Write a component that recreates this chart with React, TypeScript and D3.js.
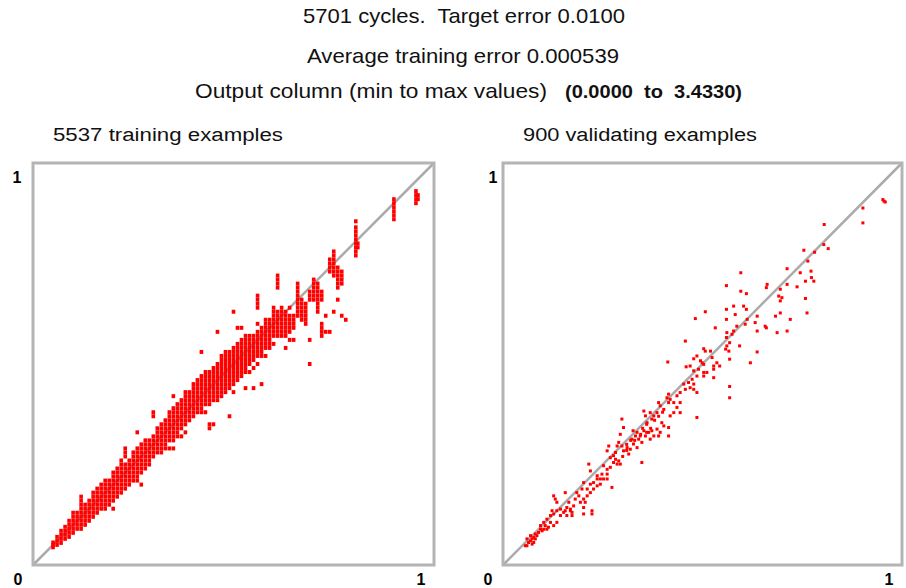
import React from "react";
import * as d3 from "d3";

// Header text
const headerLines = ["5701 cycles.  Target error 0.0100", "Average training error 0.000539"];
const outputRangeLabel = "Output column (min to max values)";
const outputRangeValues = "(0.0000  to  3.4330)";
const panelTitles = ["5537 training examples", "900 validating examples"];
const axisMinLabel = "0";
const axisMaxLabel = "1";

// Training set, grouped by actual (scaled) output: [actual, predicted values]
const trainingColumns: [number, number[]][] = [
  [0.05, [0.044, 0.05, 0.056]],
  [0.06, [0.05, 0.06, 0.07]],
  [0.07, [0.055, 0.065, 0.075, 0.085]],
  [0.08, [0.065, 0.075, 0.085, 0.095]],
  [0.09, [0.07, 0.08, 0.09, 0.1, 0.11]],
  [0.1, [0.08, 0.09, 0.1, 0.11, 0.12, 0.13]],
  [0.11, [0.09, 0.1, 0.11, 0.12, 0.13]],
  [0.12, [0.09, 0.1, 0.11, 0.12, 0.13, 0.14, 0.15, 0.16, 0.17]],
  [0.13, [0.1, 0.11, 0.12, 0.13, 0.14, 0.15]],
  [0.14, [0.11, 0.12, 0.13, 0.14, 0.15, 0.16]],
  [0.15, [0.12, 0.13, 0.14, 0.15, 0.16, 0.17, 0.18]],
  [0.16, [0.13, 0.14, 0.15, 0.16, 0.17, 0.18, 0.19]],
  [0.17, [0.14, 0.15, 0.16, 0.17, 0.18, 0.19, 0.2]],
  [0.18, [0.14, 0.15, 0.16, 0.17, 0.18, 0.19, 0.2, 0.21]],
  [0.19, [0.15, 0.16, 0.17, 0.18, 0.19, 0.2, 0.21]],
  [0.2, [0.14, 0.16, 0.17, 0.18, 0.19, 0.2, 0.21, 0.22, 0.23]],
  [0.21, [0.17, 0.18, 0.19, 0.2, 0.21, 0.22, 0.23, 0.24]],
  [0.22, [0.18, 0.19, 0.2, 0.21, 0.22, 0.23, 0.24, 0.25, 0.26]],
  [0.23, [0.19, 0.2, 0.21, 0.22, 0.23, 0.24, 0.25, 0.27, 0.28, 0.29]],
  [0.24, [0.2, 0.21, 0.22, 0.23, 0.24, 0.25, 0.26]],
  [0.25, [0.21, 0.22, 0.23, 0.24, 0.25, 0.26, 0.27, 0.28]],
  [0.26, [0.21, 0.22, 0.23, 0.24, 0.25, 0.26, 0.27, 0.28, 0.29, 0.33]],
  [0.27, [0.2, 0.23, 0.24, 0.25, 0.26, 0.27, 0.28, 0.29, 0.3]],
  [0.28, [0.24, 0.25, 0.26, 0.27, 0.28, 0.29, 0.3, 0.31]],
  [0.29, [0.25, 0.26, 0.27, 0.28, 0.29, 0.3, 0.31]],
  [0.3, [0.27, 0.28, 0.29, 0.3, 0.31, 0.32, 0.37, 0.38]],
  [0.31, [0.28, 0.29, 0.3, 0.31, 0.32, 0.33, 0.34]],
  [0.32, [0.28, 0.29, 0.3, 0.31, 0.32, 0.33, 0.34, 0.35]],
  [0.33, [0.29, 0.3, 0.31, 0.32, 0.33, 0.34, 0.35, 0.36]],
  [0.34, [0.29, 0.31, 0.32, 0.33, 0.34, 0.35, 0.36, 0.37, 0.38]],
  [0.35, [0.29, 0.31, 0.32, 0.33, 0.34, 0.35, 0.36, 0.37, 0.38, 0.39, 0.42]],
  [0.36, [0.32, 0.33, 0.34, 0.35, 0.36, 0.37, 0.38, 0.39, 0.4]],
  [0.37, [0.32, 0.34, 0.35, 0.36, 0.37, 0.38, 0.39, 0.4, 0.41]],
  [0.38, [0.33, 0.35, 0.36, 0.37, 0.38, 0.39, 0.4, 0.41, 0.42, 0.43]],
  [0.39, [0.36, 0.37, 0.38, 0.39, 0.4, 0.41, 0.42, 0.43]],
  [0.4, [0.37, 0.38, 0.39, 0.4, 0.41, 0.42, 0.43, 0.44, 0.45]],
  [0.41, [0.38, 0.39, 0.4, 0.41, 0.42, 0.43, 0.44, 0.45, 0.46]],
  [0.42, [0.38, 0.39, 0.4, 0.41, 0.42, 0.43, 0.44, 0.45, 0.46, 0.47, 0.53]],
  [0.43, [0.38, 0.4, 0.41, 0.42, 0.43, 0.44, 0.45, 0.46, 0.47, 0.48]],
  [0.44, [0.34, 0.35, 0.4, 0.41, 0.42, 0.43, 0.44, 0.45, 0.46, 0.47, 0.48]],
  [0.45, [0.35, 0.41, 0.42, 0.43, 0.44, 0.45, 0.46, 0.47, 0.48, 0.49]],
  [0.46, [0.41, 0.42, 0.43, 0.44, 0.45, 0.46, 0.47, 0.48, 0.49, 0.5, 0.58]],
  [0.47, [0.42, 0.43, 0.44, 0.45, 0.46, 0.47, 0.48, 0.49, 0.5, 0.51, 0.52]],
  [0.48, [0.43, 0.44, 0.45, 0.46, 0.47, 0.48, 0.49, 0.5, 0.51, 0.52, 0.53]],
  [0.49, [0.37, 0.44, 0.45, 0.46, 0.47, 0.48, 0.49, 0.5, 0.51, 0.52, 0.53]],
  [0.5, [0.43, 0.45, 0.46, 0.47, 0.48, 0.49, 0.5, 0.51, 0.52, 0.53, 0.54, 0.63]],
  [0.51, [0.46, 0.47, 0.48, 0.49, 0.5, 0.51, 0.52, 0.53, 0.54, 0.55, 0.59]],
  [0.52, [0.47, 0.48, 0.49, 0.5, 0.51, 0.52, 0.53, 0.54, 0.55, 0.56, 0.59]],
  [0.53, [0.44, 0.48, 0.49, 0.5, 0.51, 0.52, 0.53, 0.54, 0.55, 0.56, 0.57]],
  [0.54, [0.48, 0.5, 0.51, 0.52, 0.53, 0.54, 0.55, 0.56, 0.57]],
  [0.55, [0.44, 0.49, 0.51, 0.52, 0.53, 0.54, 0.55, 0.56, 0.57]],
  [0.56, [0.5, 0.52, 0.53, 0.54, 0.55, 0.56, 0.57, 0.58, 0.6, 0.64, 0.65, 0.66, 0.67]],
  [0.57, [0.45, 0.52, 0.53, 0.54, 0.55, 0.56, 0.57, 0.58, 0.59]],
  [0.58, [0.52, 0.54, 0.55, 0.56, 0.57, 0.58, 0.59, 0.6, 0.61]],
  [0.59, [0.54, 0.55, 0.56, 0.57, 0.58, 0.59, 0.6, 0.61]],
  [0.6, [0.55, 0.57, 0.58, 0.59, 0.6, 0.61, 0.62, 0.63, 0.64]],
  [0.61, [0.57, 0.58, 0.59, 0.6, 0.61, 0.62, 0.63, 0.69, 0.7, 0.71, 0.72]],
  [0.62, [0.57, 0.58, 0.59, 0.6, 0.61, 0.62, 0.63, 0.64]],
  [0.63, [0.54, 0.57, 0.58, 0.59, 0.6, 0.61, 0.62, 0.63]],
  [0.64, [0.56, 0.58, 0.59, 0.6, 0.61, 0.62, 0.64]],
  [0.65, [0.56, 0.59, 0.6, 0.61, 0.62]],
  [0.66, [0.62, 0.63, 0.64, 0.65, 0.66, 0.67, 0.68, 0.69, 0.7]],
  [0.67, [0.61, 0.62, 0.63, 0.64, 0.65, 0.66]],
  [0.68, [0.6, 0.61, 0.62, 0.63, 0.64, 0.65]],
  [0.69, [0.5, 0.56, 0.66, 0.67, 0.68]],
  [0.7, [0.66, 0.67, 0.68, 0.69, 0.7, 0.71]],
  [0.71, [0.63, 0.64, 0.65, 0.66, 0.67, 0.68, 0.69, 0.7]],
  [0.72, [0.57, 0.58, 0.59, 0.6, 0.66, 0.67, 0.68]],
  [0.73, [0.58, 0.62]],
  [0.74, [0.58, 0.73, 0.74, 0.75, 0.76]],
  [0.75, [0.63, 0.72, 0.73, 0.74, 0.75, 0.76, 0.77, 0.78]],
  [0.76, [0.66, 0.69, 0.7, 0.71, 0.72, 0.73, 0.74]],
  [0.77, [0.62, 0.7, 0.71, 0.72, 0.73]],
  [0.78, [0.61]],
  [0.805, [0.77, 0.78, 0.79, 0.8, 0.81, 0.82, 0.83, 0.84, 0.855]],
  [0.81, [0.79, 0.8]],
  [0.9, [0.86, 0.87, 0.88, 0.89, 0.9, 0.91]],
  [0.955, [0.9, 0.91, 0.92, 0.93]],
  [0.96, [0.91, 0.92]],
];

// Validating set: [actual, predicted]
const validatingPoints: [number, number][] = [
  [0.952, 0.909], [0.958, 0.903], [0.955, 0.905],
  [0.902, 0.888], [0.902, 0.851], [0.805, 0.847],
  [0.754, 0.783], [0.781, 0.778], [0.804, 0.797], [0.815, 0.787],
  [0.764, 0.756], [0.712, 0.737], [0.745, 0.727], [0.772, 0.731],
  [0.773, 0.715], [0.779, 0.706], [0.758, 0.706],
  [0.596, 0.727], [0.56, 0.695], [0.596, 0.681], [0.61, 0.675],
  [0.662, 0.698], [0.66, 0.69], [0.712, 0.698], [0.737, 0.692],
  [0.695, 0.686], [0.691, 0.669], [0.699, 0.665], [0.695, 0.657],
  [0.758, 0.663], [0.762, 0.627], [0.695, 0.627], [0.72, 0.611],
  [0.712, 0.582], [0.687, 0.578], [0.637, 0.619], [0.632, 0.603],
  [0.657, 0.594], [0.66, 0.59], [0.637, 0.582], [0.683, 0.619],
  [0.603, 0.644], [0.61, 0.636], [0.612, 0.611], [0.607, 0.599],
  [0.578, 0.644], [0.56, 0.636], [0.582, 0.623], [0.56, 0.611],
  [0.586, 0.594], [0.578, 0.582], [0.574, 0.574],
  [0.561, 0.578], [0.56, 0.566], [0.568, 0.553], [0.561, 0.545], [0.558, 0.537], [0.566, 0.532], [0.568, 0.512],
  [0.593, 0.545], [0.637, 0.53], [0.62, 0.503], [0.568, 0.444], [0.568, 0.416],
  [0.507, 0.63], [0.482, 0.613], [0.532, 0.59], [0.457, 0.557],
  [0.503, 0.538], [0.507, 0.532], [0.52, 0.532], [0.524, 0.516], [0.536, 0.503], [0.528, 0.495], [0.528, 0.487], [0.543, 0.495],
  [0.486, 0.52], [0.478, 0.513], [0.495, 0.508], [0.503, 0.499], [0.499, 0.503],
  [0.469, 0.495], [0.478, 0.483], [0.49, 0.487], [0.503, 0.479], [0.511, 0.479], [0.486, 0.47], [0.474, 0.462], [0.503, 0.47], [0.528, 0.466],
  [0.465, 0.454], [0.453, 0.45], [0.478, 0.437], [0.469, 0.441], [0.457, 0.437], [0.486, 0.429], [0.478, 0.45],
  [0.486, 0.367], [0.413, 0.505], [0.459, 0.493],
  [0.444, 0.429], [0.436, 0.421], [0.444, 0.404], [0.428, 0.404], [0.419, 0.412], [0.436, 0.392], [0.444, 0.379], [0.428, 0.379], [0.415, 0.404],
  [0.415, 0.425], [0.411, 0.416],
  [0.39, 0.404], [0.394, 0.396], [0.403, 0.387], [0.386, 0.379], [0.378, 0.371], [0.369, 0.379], [0.373, 0.363], [0.361, 0.354], [0.357, 0.371], [0.353, 0.383],
  [0.419, 0.371], [0.415, 0.342], [0.415, 0.321],
  [0.398, 0.354], [0.403, 0.346], [0.386, 0.338], [0.394, 0.33], [0.39, 0.321], [0.373, 0.334], [0.378, 0.321], [0.369, 0.313],
  [0.365, 0.33], [0.357, 0.321], [0.353, 0.334], [0.344, 0.321], [0.348, 0.305], [0.34, 0.313], [0.336, 0.33], [0.326, 0.334],
  [0.332, 0.321], [0.323, 0.313], [0.327, 0.301], [0.336, 0.292], [0.319, 0.288], [0.315, 0.276], [0.302, 0.284], [0.311, 0.292],
  [0.298, 0.296], [0.298, 0.363], [0.302, 0.342], [0.294, 0.325], [0.29, 0.305], [0.286, 0.296],
  [0.35, 0.34], [0.36, 0.35], [0.37, 0.34], [0.38, 0.36], [0.39, 0.37], [0.4, 0.38], [0.36, 0.33], [0.345, 0.325],
  [0.33, 0.31], [0.31, 0.3], [0.32, 0.31], [0.3, 0.27], [0.31, 0.285],
  [0.348, 0.255],
  [0.282, 0.28], [0.277, 0.272], [0.269, 0.267], [0.282, 0.263], [0.29, 0.259], [0.294, 0.251], [0.286, 0.251], [0.277, 0.255],
  [0.265, 0.296], [0.261, 0.284], [0.269, 0.243], [0.261, 0.238], [0.252, 0.247], [0.261, 0.226], [0.248, 0.226],
  [0.244, 0.214], [0.236, 0.222], [0.227, 0.205], [0.236, 0.197], [0.227, 0.189], [0.219, 0.18], [0.211, 0.172], [0.202, 0.164],
  [0.211, 0.189], [0.219, 0.201], [0.236, 0.214], [0.252, 0.214], [0.244, 0.201], [0.215, 0.251], [0.219, 0.234], [0.273, 0.193], [0.261, 0.214],
  [0.19, 0.172], [0.198, 0.189], [0.202, 0.205], [0.185, 0.18], [0.181, 0.164], [0.194, 0.156], [0.177, 0.147], [0.169, 0.139],
  [0.165, 0.156], [0.16, 0.143], [0.173, 0.131], [0.156, 0.18], [0.202, 0.143], [0.206, 0.156],
  [0.127, 0.172], [0.131, 0.164], [0.135, 0.156], [0.144, 0.139], [0.152, 0.131], [0.16, 0.123], [0.156, 0.135], [0.135, 0.135],
  [0.123, 0.135], [0.127, 0.127], [0.119, 0.123], [0.144, 0.123], [0.173, 0.123], [0.169, 0.135],
  [0.202, 0.127], [0.223, 0.135], [0.223, 0.127],
  [0.11, 0.114], [0.119, 0.106], [0.102, 0.106], [0.094, 0.098], [0.106, 0.098], [0.114, 0.094], [0.127, 0.098], [0.135, 0.106],
  [0.11, 0.089], [0.098, 0.085], [0.089, 0.081], [0.081, 0.077], [0.077, 0.069], [0.073, 0.065], [0.069, 0.06], [0.064, 0.056],
  [0.073, 0.052], [0.06, 0.048], [0.056, 0.048], [0.077, 0.056], [0.085, 0.073], [0.094, 0.089], [0.102, 0.089],
  [0.069, 0.073], [0.06, 0.065], [0.081, 0.065],
];

const trainingPoints: [number, number][] = trainingColumns.flatMap(([actual, preds]) =>
  preds.map((p) => [actual, p] as [number, number])
);

const FONT = "'Liberation Sans', Arial, Helvetica, sans-serif";
const W = 906;
const H = 588;
const PLOT_TOP = 163;
const PLOT_BOTTOM = 565;

type Panel = {
  title: string;
  left: number;
  right: number;
  titleX: number;
  titleW: number;
  topLabelX: number;
  zeroX: number;
  oneX: number;
  points: [number, number][];
  markW: number;
  markH: number;
};

const panels: Panel[] = [
  {
    title: panelTitles[0],
    left: 33,
    right: 434,
    titleX: 53,
    titleW: 230,
    topLabelX: 17,
    zeroX: 18,
    oneX: 421,
    points: trainingPoints,
    markW: 3.6,
    markH: 4,
  },
  {
    title: panelTitles[1],
    left: 503,
    right: 902,
    titleX: 523,
    titleW: 234,
    topLabelX: 493,
    zeroX: 488,
    oneX: 889,
    points: validatingPoints,
    markW: 3,
    markH: 3,
  },
];

function ScatterPanel({ p }: { p: Panel }) {
  const x = d3.scaleLinear().domain([0, 1]).range([p.left, p.right]);
  const y = d3.scaleLinear().domain([0, 1]).range([PLOT_BOTTOM, PLOT_TOP]);
  const diag = d3.line<number>().x((v) => x(v)).y((v) => y(v))([0, 1]) ?? "";
  return (
    <g>
      <text
        x={p.titleX}
        y={141}
        fontFamily={FONT}
        fontSize={18}
        textLength={p.titleW}
        lengthAdjust="spacingAndGlyphs"
        fill="#111"
      >
        {p.title}
      </text>
      <path d={diag} stroke="#ababab" strokeWidth={2.5} fill="none" />
      <g fill="#ff0000">
        {p.points.map(([a, b], i) => (
          <rect
            key={i}
            x={x(a) - p.markW / 2}
            y={y(b) - p.markH / 2}
            width={p.markW}
            height={p.markH}
          />
        ))}
      </g>
      <rect
        x={x(0)}
        y={y(1)}
        width={x(1) - x(0)}
        height={y(0) - y(1)}
        fill="none"
        stroke="#b4b4b4"
        strokeWidth={3}
      />
      <g fontFamily={FONT} fontWeight="bold" fontSize={16} fill="#000" textAnchor="middle">
        <text x={p.topLabelX} y={183}>{axisMaxLabel}</text>
        <text x={p.zeroX} y={585}>{axisMinLabel}</text>
        <text x={p.oneX} y={585}>{axisMaxLabel}</text>
      </g>
    </g>
  );
}

export default function App() {
  return (
    <svg
      width={W}
      height={H}
      viewBox={`0 0 ${W} ${H}`}
      style={{ position: "absolute", left: 0, top: 0, background: "#fff" }}
    >
      <rect width={W} height={H} fill="#fff" />
      <g fontFamily={FONT} fill="#111">
        <text x={303} y={23} fontSize={21} xmlSpace="preserve" textLength={322} lengthAdjust="spacingAndGlyphs">
          {headerLines[0]}
        </text>
        <text x={307} y={63} fontSize={21} xmlSpace="preserve" textLength={312} lengthAdjust="spacingAndGlyphs">
          {headerLines[1]}
        </text>
        <text x={195} y={98} fontSize={21} xmlSpace="preserve" textLength={352} lengthAdjust="spacingAndGlyphs">
          {outputRangeLabel}
        </text>
        <text x={565} y={98} fontSize={19} fontWeight="bold" xmlSpace="preserve" textLength={177} lengthAdjust="spacingAndGlyphs">
          {outputRangeValues}
        </text>
      </g>
      {panels.map((p, i) => (
        <ScatterPanel key={i} p={p} />
      ))}
    </svg>
  );
}
